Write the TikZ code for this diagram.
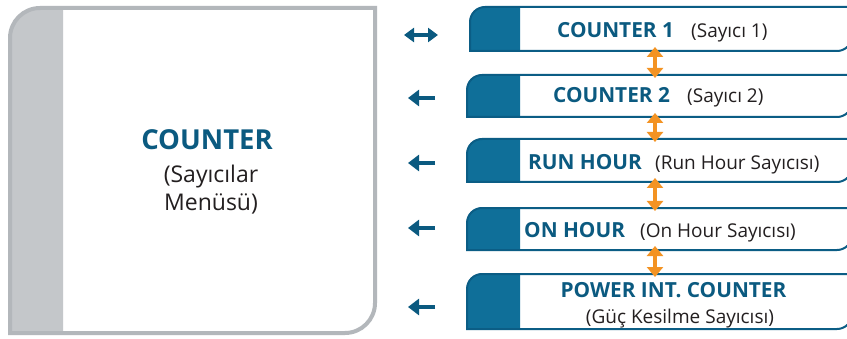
\documentclass[tikz,border=0pt]{standalone}
\usepackage{fontspec}
\setmainfont{Open Sans}
\usetikzlibrary{arrows.meta}
\definecolor{bluefill}{HTML}{0F6F99}
\definecolor{blueline}{HTML}{0B5D85}
\definecolor{bluetext}{HTML}{0B5A80}
\definecolor{darktext}{HTML}{231F20}
\definecolor{grayline}{HTML}{B3B7BB}
\definecolor{grayfill}{HTML}{C4C7CA}
\definecolor{orangearr}{HTML}{F39323}
\tikzset{
  boxnode/.style={inner sep=0pt, outer sep=0pt, draw=none},
  boldlbl/.style={font=\fontsize{20.8}{24}\selectfont\bfseries, text=bluetext, inner sep=0pt},
  normlbl/.style={font=\fontsize{19}{23}\selectfont, text=darktext, inner sep=0pt},
  bluearrow/.style={draw=bluetext, line width=4.5pt, -{Triangle[width=16pt,length=11pt]}},
  bluedarrow/.style={draw=bluetext, line width=4.5pt, {Triangle[width=14pt,length=10pt]}-{Triangle[width=14pt,length=10pt]}},
  orangearrow/.style={draw=orangearr, line width=4.5pt, {Triangle[width=16pt,length=10pt]}-{Triangle[width=16pt,length=10pt]}},
}
\newcommand\rshape[1]{%
  \fill[bluefill] (#1.south west) -- ([yshift=-15pt]#1.north west)
     arc[start angle=180, end angle=90, radius=15pt] -- (#1.north west -| split) -- (#1.south west -| split) -- cycle;
  \draw[blueline, line width=2pt] (#1.south west) -- ([yshift=-15pt]#1.north west)
     arc[start angle=180, end angle=90, radius=15pt] -- (#1.north east) -- ([yshift=15pt]#1.south east)
     arc[start angle=0, end angle=-90, radius=15pt] -- cycle;}
\begin{document}
\begin{tikzpicture}[x=1pt, y=1pt]
\useasboundingbox (0,0) rectangle (847,338);
\clip (0,0) rectangle (847,338);
\fill[white] (0,0) rectangle (847,338);
% left big box
\fill[grayfill] (10,5) -- (10,300) arc[start angle=180, end angle=90, radius=30] -- (63,330) -- (63,5) -- cycle;
\draw[grayline, line width=4pt] (10,5) -- (10,300) arc[start angle=180, end angle=90, radius=30]
   -- (375,330) -- (375,35) arc[start angle=0, end angle=-90, radius=30] -- cycle;
\node[boldlbl, font=\fontsize{27.5}{30}\selectfont\bfseries, anchor=base] (main) at (207,188) {COUNTER};
\node[normlbl, font=\fontsize{23}{26}\selectfont, anchor=base] (sub1) at (211,156) {(Sayıcılar};
\node[normlbl, font=\fontsize{23}{26}\selectfont, anchor=base] (sub2) at (211,128) {Menüsü)};
% right boxes
\coordinate (split) at (520,0);
\node[boxnode, minimum width=382pt, minimum height=44pt] (b1) at (661,309) {};
\node[boxnode, minimum width=385pt, minimum height=42pt] (b2) at (659.5,242) {};
\node[boxnode, minimum width=385pt, minimum height=43pt] (b3) at (659.5,177.5) {};
\node[boxnode, minimum width=385pt, minimum height=42pt] (b4) at (659.5,109) {};
\node[boxnode, minimum width=385pt, minimum height=55pt] (b5) at (659.5,36.5) {};
\rshape{b1}\rshape{b2}\rshape{b3}\rshape{b4}\rshape{b5}
% labels
\node[boldlbl, anchor=base west] (t1) at (557,300) {COUNTER 1};
\node[normlbl, anchor=base west] (s1) at (691,300) {(Sayıcı 1)};
\node[boldlbl, anchor=base west] (t2) at (553,235) {COUNTER 2};
\node[normlbl, anchor=base west] (s2) at (687,235) {(Sayıcı 2)};
\node[boldlbl, anchor=base west] (t3) at (528,168) {RUN HOUR};
\node[normlbl, anchor=base west] (s3) at (655,168) {(Run Hour Sayıcısı)};
\node[boldlbl, anchor=base west] (t4) at (524,100) {ON HOUR};
\node[normlbl, anchor=base west] (s4) at (640,100) {(On Hour Sayıcısı)};
\node[boldlbl, anchor=base] (t5) at (673.5,41) {POWER INT. COUNTER};
\node[normlbl, anchor=base] (s5) at (680,15) {(Güç Kesilme Sayıcısı)};
% orange arrows
\coordinate (ox) at (655,0);
\draw[orangearrow] ([yshift=4pt]b1.south -| ox) -- ([yshift=-3pt]b2.north -| ox);
\draw[orangearrow] ([yshift=4pt]b2.south -| ox) -- ([yshift=-3pt]b3.north -| ox);
\draw[orangearrow] ([yshift=4pt]b3.south -| ox) -- ([yshift=-3pt]b4.north -| ox);
\draw[orangearrow] ([yshift=4pt]b4.south -| ox) -- ([yshift=-3pt]b5.north -| ox);
% blue side arrows
\coordinate (a1l) at (404,303); \coordinate (a1r) at (438,303);
\coordinate (a2l) at (408,240); \coordinate (a2r) at (435,240);
\coordinate (a3l) at (408,175); \coordinate (a3r) at (435,175);
\coordinate (a4l) at (408,110); \coordinate (a4r) at (435,110);
\coordinate (a5l) at (408,31);  \coordinate (a5r) at (435,31);
\draw[bluedarrow] (a1l) -- (a1r);
\draw[bluearrow] (a2r) -- (a2l);
\draw[bluearrow] (a3r) -- (a3l);
\draw[bluearrow] (a4r) -- (a4l);
\draw[bluearrow] (a5r) -- (a5l);
\end{tikzpicture}
\end{document}
